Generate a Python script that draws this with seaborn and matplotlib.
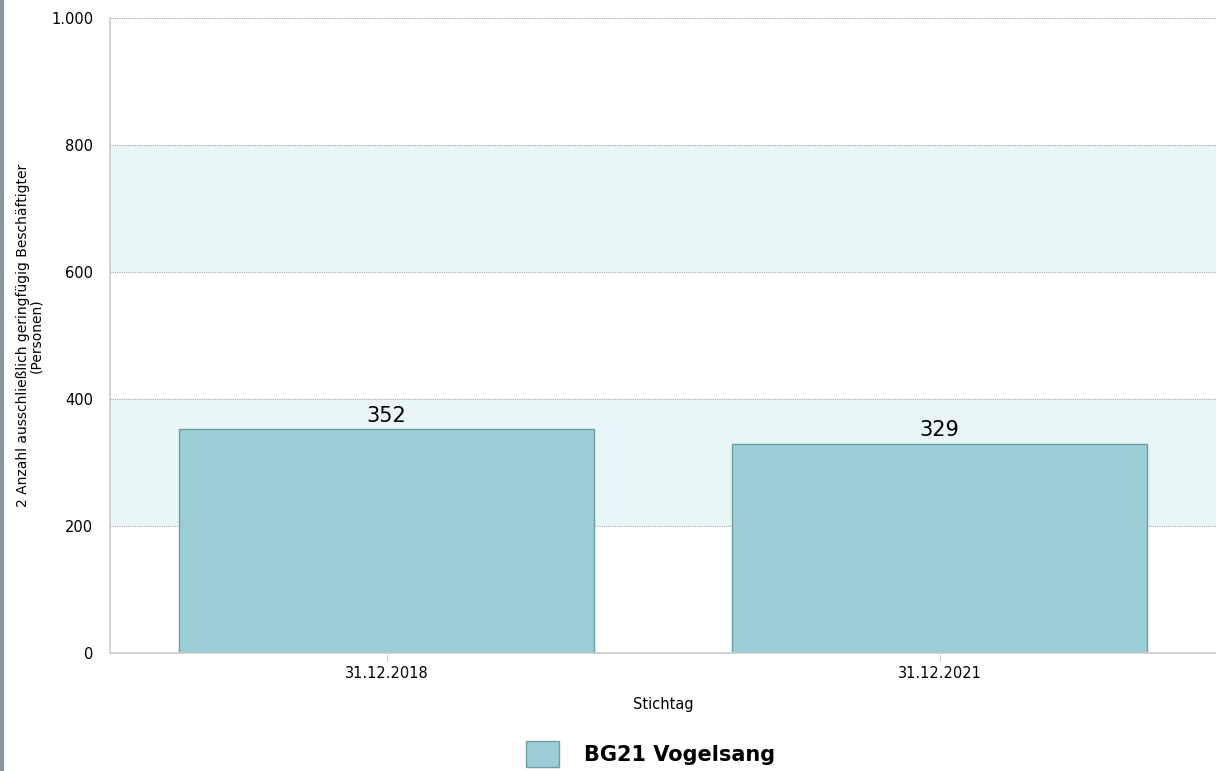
import matplotlib
matplotlib.use("Agg")
import matplotlib.pyplot as plt
import seaborn as sns
import pandas as pd
from matplotlib.lines import Line2D
from matplotlib.patches import Patch

stichtage = ["31.12.2018", "31.12.2021"]
werte = [352, 329]
serie = "BG21 Vogelsang"
yTicks = [0, 200, 400, 600, 800, 1000]
yTickLabels = ["0", "200", "400", "600", "800", "1.000"]
baender = [(200, 400), (600, 800)]

barColor = "#9bcdd6"
edgeColor = "#6f9ea3"
bandColor = "#e8f6f7"
gridColor = "#a8a8a8"

sns.set_style("white")
plt.rcParams["font.family"] = ["DejaVu Sans"]
plt.rcParams["text.color"] = "black"
plt.rcParams["axes.labelcolor"] = "black"
plt.rcParams["xtick.labelcolor"] = "black"
plt.rcParams["ytick.labelcolor"] = "black"

df = pd.DataFrame({"Stichtag": stichtage, "Wert": werte})

fig = plt.figure(figsize=(12.16, 7.71), dpi=100, facecolor="white")
ax = fig.add_axes([110 / 1216, 118 / 771, 1106 / 1216, 635 / 771])

for lo, hi in baender:
    ax.axhspan(lo, hi, color=bandColor, zorder=0, lw=0)

sns.barplot(data=df, x="Stichtag", y="Wert", ax=ax, color=barColor,
            edgecolor=edgeColor, linewidth=1, width=0.75, saturation=1, zorder=2)

for i, v in enumerate(werte):
    ax.text(i, v + 6, str(v), ha="center", va="bottom", fontsize=15, color="black", zorder=3)

ax.set_ylim(0, 1000)
ax.set_xlim(-0.5, 1.5)
ax.set_yticks(yTicks)
ax.set_yticklabels(yTickLabels)
ax.yaxis.grid(True, color=gridColor, linestyle=(0, (1, 1)), linewidth=0.8, zorder=1)
ax.set_axisbelow(True)
ax.tick_params(axis="y", length=9, color=gridColor, labelsize=10.5, pad=3, width=0.8)
ax.tick_params(axis="x", length=0, labelsize=10.5, pad=9)
for t in ax.yaxis.get_major_ticks():
    t.tick1line.set_linestyle((0, (1, 1)))

ax.set_xlabel("Stichtag", fontsize=10.5, labelpad=12)
ax.set_ylabel("2 Anzahl ausschließlich geringfügig Beschäftigter\n(Personen)",
              fontsize=10, linespacing=1.0)
ax.yaxis.set_label_coords(-0.060, 0.5)

for s in ["top", "right"]:
    ax.spines[s].set_visible(False)
ax.spines["left"].set_color("#c8ccd0")
ax.spines["bottom"].set_color("#c8ccd0")
ax.spines["left"].set_linewidth(1.2)
ax.spines["bottom"].set_linewidth(1.2)

# small dotted x tick marks
for i in range(len(stichtage)):
    ax.plot([i, i], [-3, -12], color=gridColor, linestyle=(0, (1, 1)), lw=0.8,
            clip_on=False, zorder=3)

handles = [Patch(facecolor=barColor, edgecolor=edgeColor, label=serie)]
fig.legend(handles=handles, loc="center", bbox_to_anchor=(0.535, 0.022), frameon=False,
           prop={"weight": "bold", "size": 15}, handlelength=1.6, handleheight=1.6,
           handletextpad=1.2)

fig.add_artist(Line2D([2 / 1216, 2 / 1216], [0, 1], color="#8a949a", lw=3,
                      transform=fig.transFigure))

fig.savefig("out.png", dpi=100, facecolor="white")
